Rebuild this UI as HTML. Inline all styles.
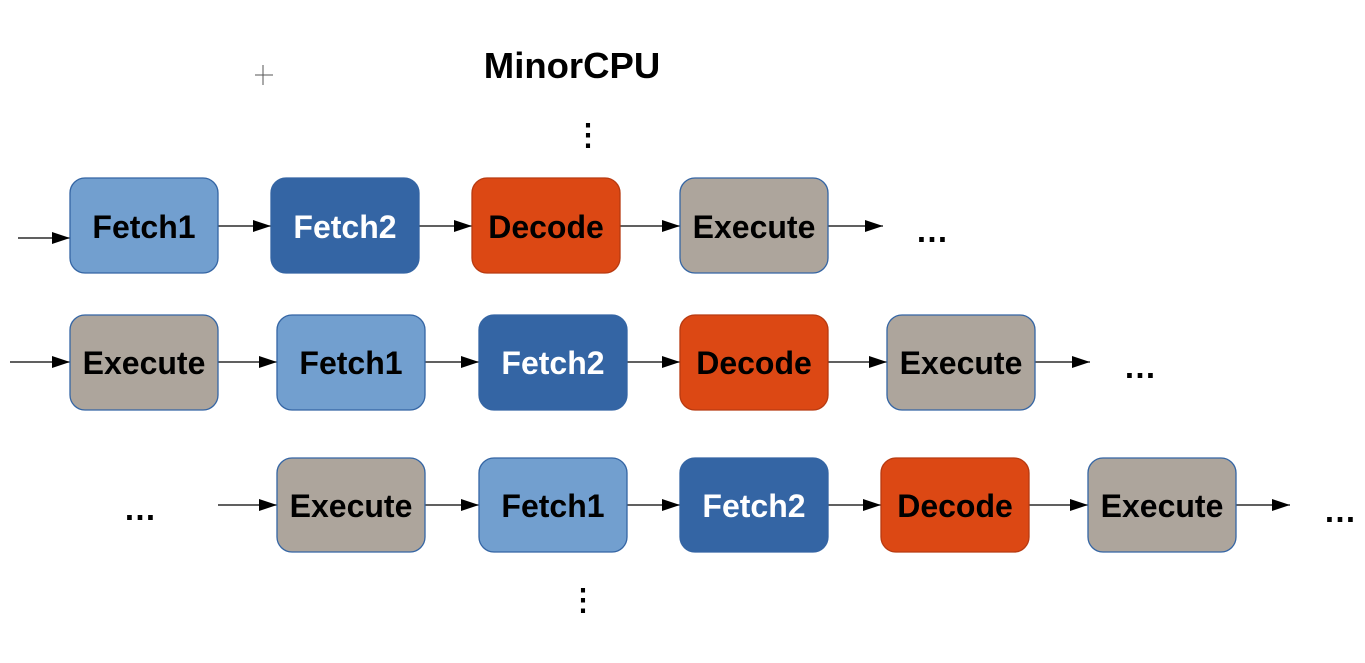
<!DOCTYPE html>
<html><head><style>body{margin:0;background:#fff}</style></head><body>
<svg width="1365" height="658" xmlns="http://www.w3.org/2000/svg" font-family="Liberation Sans, sans-serif" font-weight="bold">
<defs><marker id="a" markerWidth="18" markerHeight="12" refX="18" refY="6" orient="auto" markerUnits="userSpaceOnUse"><path d="M0,0 L18,6 L0,12 z" fill="#000"/></marker></defs>
<line x1="255" y1="75" x2="273" y2="75" stroke="#555"/><line x1="263" y1="65" x2="263" y2="85" stroke="#555"/>
<text x="572" y="78" font-size="36.5" text-anchor="middle">MinorCPU</text>
<text x="588" y="145" font-size="30" text-anchor="middle">⋮</text>
<text x="583" y="610" font-size="30" text-anchor="middle">⋮</text>
<g stroke="#000" stroke-width="1.3" marker-end="url(#a)">
<line x1="18" y1="238" x2="70" y2="238"/><line x1="218" y1="226" x2="271" y2="226"/><line x1="419" y1="226" x2="472" y2="226"/><line x1="620" y1="226" x2="680" y2="226"/><line x1="828" y1="226" x2="883" y2="226"/>
<line x1="10" y1="362" x2="70" y2="362"/><line x1="218" y1="362" x2="277" y2="362"/><line x1="425" y1="362" x2="479" y2="362"/><line x1="627" y1="362" x2="680" y2="362"/><line x1="828" y1="362" x2="887" y2="362"/><line x1="1035" y1="362" x2="1090" y2="362"/>
<line x1="218" y1="505" x2="277" y2="505"/><line x1="425" y1="505" x2="479" y2="505"/><line x1="627" y1="505" x2="680" y2="505"/><line x1="828" y1="505" x2="881" y2="505"/><line x1="1029" y1="505" x2="1088" y2="505"/><line x1="1236" y1="505" x2="1290" y2="505"/>
</g>
<g font-size="33">
<text x="932" y="242" text-anchor="middle">…</text>
<text x="1140" y="378" text-anchor="middle">…</text>
<text x="140" y="520" text-anchor="middle">…</text>
<text x="1340" y="522" text-anchor="middle">…</text>
</g>
<g stroke="#3465a4" stroke-width="1.3" font-size="32" text-anchor="middle">
<rect x="70" y="178" width="148" height="95" rx="15" fill="#729fcf"/><text x="144" y="238" stroke="none">Fetch1</text>
<rect x="271" y="178" width="148" height="95" rx="15" fill="#3465a4"/><text x="345" y="238" stroke="none" fill="#fff">Fetch2</text>
<rect x="472" y="178" width="148" height="95" rx="15" fill="#dc4814" stroke="#b83a10"/><text x="546" y="238" stroke="none">Decode</text>
<rect x="680" y="178" width="148" height="95" rx="15" fill="#ada59c"/><text x="754" y="238" stroke="none">Execute</text>
<rect x="70" y="315" width="148" height="95" rx="15" fill="#ada59c"/><text x="144" y="374" stroke="none">Execute</text>
<rect x="277" y="315" width="148" height="95" rx="15" fill="#729fcf"/><text x="351" y="374" stroke="none">Fetch1</text>
<rect x="479" y="315" width="148" height="95" rx="15" fill="#3465a4"/><text x="553" y="374" stroke="none" fill="#fff">Fetch2</text>
<rect x="680" y="315" width="148" height="95" rx="15" fill="#dc4814" stroke="#b83a10"/><text x="754" y="374" stroke="none">Decode</text>
<rect x="887" y="315" width="148" height="95" rx="15" fill="#ada59c"/><text x="961" y="374" stroke="none">Execute</text>
<rect x="277" y="458" width="148" height="94" rx="15" fill="#ada59c"/><text x="351" y="517" stroke="none">Execute</text>
<rect x="479" y="458" width="148" height="94" rx="15" fill="#729fcf"/><text x="553" y="517" stroke="none">Fetch1</text>
<rect x="680" y="458" width="148" height="94" rx="15" fill="#3465a4"/><text x="754" y="517" stroke="none" fill="#fff">Fetch2</text>
<rect x="881" y="458" width="148" height="94" rx="15" fill="#dc4814" stroke="#b83a10"/><text x="955" y="517" stroke="none">Decode</text>
<rect x="1088" y="458" width="148" height="94" rx="15" fill="#ada59c"/><text x="1162" y="517" stroke="none">Execute</text>
</g>
</svg>
</body></html>
